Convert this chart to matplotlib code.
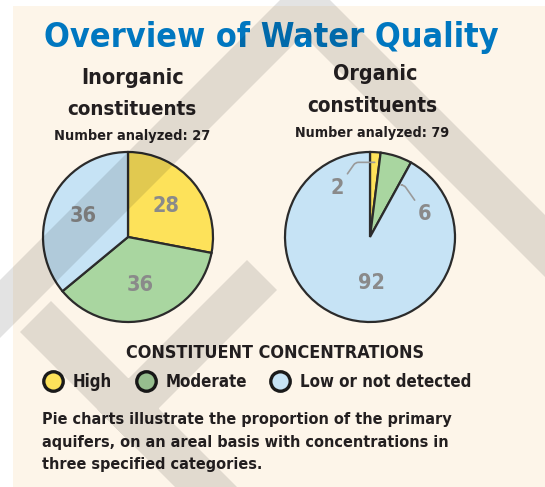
import matplotlib
matplotlib.use("Agg")
import numpy
from matplotlib import pyplot, font_manager
from matplotlib.patches import Rectangle, PathPatch
from matplotlib.path import Path
from matplotlib.lines import Line2D

# data
categories = ["High", "Moderate", "Low or not detected"]
colors = ["#fde25a", "#a9d6a0", "#c6e3f5"]
inorganic = [28, 36, 36]
organic = [2, 6, 92]
n_inorganic = 27
n_organic = 79

W, H = 545, 487
INK = "#231f20"
LABEL = "#8a8a8a"

# look for a narrow bold face, else plain DejaVu Sans bold
narrow = None
for f in font_manager.fontManager.ttflist:
    name = (f.name + " " + f.fname).lower()
    if ("condensed" in name or "narrow" in name or f.stretch in ("condensed", "semi-condensed")) \
            and f.weight in ("bold", 700, "heavy", 800, "black", 900) and f.style == "normal":
        narrow = f.fname
        break


def fprop(size):
    if narrow:
        return font_manager.FontProperties(fname=narrow, size=size)
    return font_manager.FontProperties(family="DejaVu Sans", weight="bold", size=size)


def fx(x):
    return x / W


def fy(y):
    return 1 - y / H


fig = pyplot.figure(figsize=(W / 100, H / 100), dpi=100)
fig.patch.set_facecolor("white")
fig.add_artist(Rectangle((fx(13), 0), 1 - fx(13), fy(6), transform=fig.transFigure,
                         facecolor="#fdf5e9", edgecolor="none", zorder=0))
renderer = fig.canvas.get_renderer()


def fit(t, width):
    w = t.get_window_extent(renderer).width
    t.set_fontsize(t.get_fontsize() * width / w)
    return t.get_fontsize()


def size_for(s, width):
    probe = fig.text(0, 0, s, fontproperties=fprop(14))
    size = fit(probe, width)
    probe.remove()
    return size


def label(x, y, s, width, color=INK, ha="center"):
    t = fig.text(fx(x), fy(y), s, color=color, ha=ha, va="baseline",
                 fontproperties=fprop(size_for(s, width)))
    return t


label(271, 47, "Overview of Water Quality", 457, color="#0077c0")

# pie headers
label(133, 84, "Inorganic", 103)
label(132, 115, "constituents", 130)
label(132, 140, "Number analyzed: {}".format(n_inorganic), 157)
label(375, 80, "Organic", 85)
label(372, 112, "constituents", 131)
label(372, 137, "Number analyzed: {}".format(n_organic), 155)


def pie_axes(cx, cy, r):
    return fig.add_axes([fx(cx - r), fy(cy + r), 2 * r / W, 2 * r / H])


def finish(ax):
    ax.set_xlim(-1, 1)
    ax.set_ylim(-1, 1)
    ax.set_aspect("equal")
    ax.axis("off")


wp = dict(edgecolor="#2b2b2b", linewidth=1.6)
num_size = size_for("92", 27)

ax1 = pie_axes(128, 237, 85)
_, _, autotexts = ax1.pie(inorganic, colors=colors, startangle=90, counterclock=False,
                          radius=1, wedgeprops=wp, autopct=lambda p: "{:.0f}".format(p),
                          pctdistance=0.58)
for t in autotexts:
    t.set_fontproperties(fprop(num_size))
    t.set_color(LABEL)
finish(ax1)

ax2 = pie_axes(370, 237, 85)
wedges = ax2.pie(organic, colors=colors, startangle=90, counterclock=False, radius=1,
                 wedgeprops=wp)[0]
finish(ax2)
lead = dict(arrowstyle="-", color="#9a9a9a", lw=1.2, shrinkA=1, shrinkB=0)
t = numpy.deg2rad((wedges[0].theta1 + wedges[0].theta2) / 2)
ax2.annotate(str(organic[0]), xy=(0.88 * numpy.cos(t), 0.88 * numpy.sin(t)),
             xytext=(-0.38, 0.58), ha="center", va="center", color=LABEL,
             fontproperties=fprop(num_size),
             arrowprops=dict(connectionstyle="angle,angleA=55,angleB=0,rad=3", **lead))
t = numpy.deg2rad(wedges[1].theta1 - 3)
ax2.annotate(str(organic[1]), xy=(0.72 * numpy.cos(t), 0.72 * numpy.sin(t)),
             xytext=(0.64, 0.27), ha="center", va="center", color=LABEL,
             fontproperties=fprop(num_size),
             arrowprops=dict(connectionstyle="angle,angleA=125,angleB=0,rad=3", **lead))
ax2.text(0.02, -0.54, str(organic[2]), ha="center", va="center", color=LABEL,
         fontproperties=fprop(num_size))

# legend
label(275, 358, "CONSTITUENT CONCENTRATIONS", 300)
handles = [Line2D([], [], marker="o", linestyle="none", markersize=14,
                  markerfacecolor=c, markeredgecolor="#1a1a1a", markeredgewidth=2.4)
           for c in colors]
leg = fig.legend(handles, categories, loc="center left", bbox_to_anchor=(fx(45), fy(382)),
                 ncol=3, frameon=False, handlelength=1.0, handletextpad=0.68,
                 columnspacing=1.5, borderpad=0, borderaxespad=0,
                 prop=fprop(size_for(categories[2], 172)))
for txt in leg.get_texts():
    txt.set_color(INK)

note = ["Pie charts illustrate the proportion of the primary",
        "aquifers, on an areal basis with concentrations in",
        "three specified categories."]
note_size = size_for(note[1], 408)
for i, line in enumerate(note):
    fig.text(fx(42), fy(424 + 22.5 * i), line, color=INK, ha="left", va="baseline",
             fontproperties=fprop(note_size))

# watermark bands over everything
bands = [
    [(305, -25), (550, 220), (550, 282), (303, 35), (-5, 343), (-5, 285)],
    [(20, 332), (51, 301), (247, 497), (185, 497)],
    [(247, 260), (277, 290), (127.5, 439.5), (97.5, 409.5)],
]
verts, codes = [], []
for poly in bands:
    area = sum(poly[i][0] * poly[i - 1][1] - poly[i - 1][0] * poly[i][1] for i in range(len(poly)))
    if area < 0:
        poly = poly[::-1]
    verts += [(fx(x), fy(y)) for x, y in poly] + [(0, 0)]
    codes += [Path.MOVETO] + [Path.LINETO] * (len(poly) - 1) + [Path.CLOSEPOLY]
fig.add_artist(PathPatch(Path(verts, codes), transform=fig.transFigure, facecolor="black",
                         edgecolor="none", alpha=0.11, zorder=20))

pyplot.savefig("out.png", dpi=100)
